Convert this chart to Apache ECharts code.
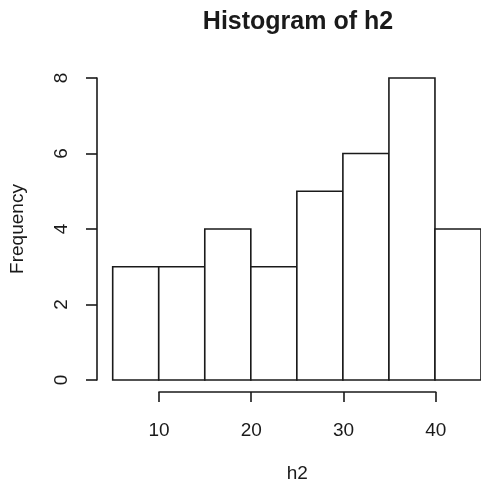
<!DOCTYPE html>
<html>
<head>
<meta charset="utf-8">
<script src="https://cdn.jsdelivr.net/npm/echarts@6/dist/echarts.min.js"></script>
<style>html,body{margin:0;padding:0;background:#fff;}#c{width:481px;height:489px;}</style>
</head>
<body>
<div id="c"></div>
<script>
var binStarts = [5, 10, 15, 20, 25, 30, 35, 40];
var binEnds = [10, 15, 20, 25, 30, 35, 40, 45];
var counts = [3, 3, 4, 3, 5, 6, 8, 4];
var xTicks = [10, 20, 30, 40];
var yTicks = [0, 2, 4, 6, 8];

var ink = '#1a1a1a';
var font = 'Liberation Sans, Arial, sans-serif';
var barData = binStarts.map(function (s, i) { return [s, binEnds[i], counts[i]]; });

var chart = echarts.init(document.getElementById('c'), null, {renderer: 'canvas'});
chart.setOption({
  backgroundColor: '#fff',
  animation: false,
  title: {
    text: 'Histogram of h2',
    left: 293, top: 5, textAlign: 'center',
    textStyle: {fontFamily: font, fontSize: 25, fontWeight: 'bold', color: ink}
  },
  grid: [
    {left: 112.7, top: 78, width: 368.8, height: 302},
    {left: 97, top: 78, width: 1, height: 302},
    {left: 159, top: 78, width: 276.7, height: 314}
  ],
  xAxis: [
    {gridIndex: 0, type: 'value', min: 5, max: 45, show: false},
    {gridIndex: 1, type: 'value', min: 0, max: 1, show: false},
    {gridIndex: 2, type: 'value', min: 10, max: 40, interval: 10,
     name: 'h2', nameLocation: 'middle', nameGap: 72,
     nameTextStyle: {fontFamily: font, fontSize: 19, color: ink},
     axisLine: {show: true, lineStyle: {color: ink, width: 1.6}},
     axisTick: {show: true, length: 10, lineStyle: {color: ink, width: 1.6}},
     axisLabel: {fontFamily: font, fontSize: 19, color: ink, margin: 29},
     splitLine: {show: false}}
  ],
  yAxis: [
    {gridIndex: 0, type: 'value', min: 0, max: 8, show: false},
    {gridIndex: 1, type: 'value', min: 0, max: 8, interval: 2,
     name: 'Frequency', nameLocation: 'middle', nameGap: 70, nameRotate: 90,
     nameTextStyle: {fontFamily: font, fontSize: 19, color: ink},
     axisLine: {show: true, lineStyle: {color: ink, width: 1.6}},
     axisTick: {show: true, length: 11, lineStyle: {color: ink, width: 1.6}},
     axisLabel: {fontFamily: font, fontSize: 19, color: ink, rotate: 90, margin: 26, align: 'center', verticalAlign: 'bottom'},
     splitLine: {show: false}},
    {gridIndex: 2, type: 'value', min: 0, max: 1, show: false}
  ],
  series: [{
    type: 'custom',
    xAxisIndex: 0, yAxisIndex: 0,
    data: barData,
    renderItem: function (params, api) {
      var p0 = api.coord([api.value(0), 0]);
      var p1 = api.coord([api.value(1), api.value(2)]);
      return {
        type: 'rect',
        shape: {x: p0[0], y: p1[1], width: p1[0] - p0[0], height: p0[1] - p1[1]},
        style: {fill: '#fff', stroke: ink, lineWidth: 1.6}
      };
    },
    encode: {x: [0, 1], y: 2}
  }]
});
</script>
</body>
</html>
